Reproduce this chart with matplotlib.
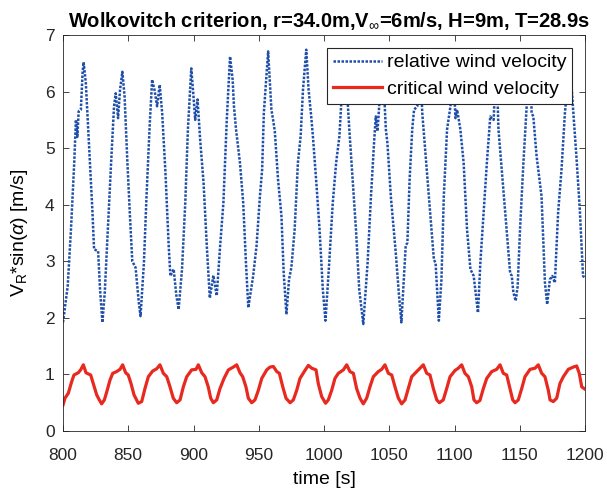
import matplotlib
matplotlib.use("Agg")
import matplotlib.pyplot as plt

plt.rcParams["font.family"] = ["Liberation Sans", "DejaVu Sans"]
plt.rcParams["mathtext.fontset"] = "custom"
plt.rcParams["mathtext.rm"] = "Liberation Sans"
plt.rcParams["mathtext.it"] = "Liberation Sans:italic"
plt.rcParams["mathtext.bf"] = "Liberation Sans:bold"

# relative wind velocity V_R*sin(alpha) [m/s]
blue_t = [800, 803.6, 806.1, 808.6, 809.9, 811, 812, 813.7, 815, 815.8, 817.5, 820, 822.6, 823.8, 826.9, 828.4, 830.2,
          832, 834, 836.6, 839.1, 840.4, 842.2, 843.7, 845.5, 847.2, 849.3, 851.3, 853.1, 855.6, 858.1, 859.4,
          862, 864, 866.5, 868.3, 870.1, 872.1, 874.1, 876, 878.5, 881, 882.3, 884.8, 886.9, 888.6,
          891.2, 893.7, 895.7, 898.3, 900, 901.3, 903.1, 905.1, 907.7, 910.2, 912.5, 915.2, 917.8,
          920.4, 922.9, 925.5, 928, 930, 931, 932.6, 935.6, 938.1, 940.2, 942,
          945.7, 948.3, 950.9, 952.6, 953.9, 957.2, 959.7, 961, 962.3, 964.8, 967.4, 969.1, 971.2,
          973.2, 975, 977.5, 980, 982.1, 983.9, 986.4, 988.2, 990.2, 991.5, 994.5, 996.6, 999.1, 1001.1,
          1003.7, 1006.7, 1009.3, 1011.8, 1013.1, 1015.5, 1018.2, 1019.4, 1022, 1024.5, 1027, 1030.1,
          1033.4, 1036, 1038.5, 1039.7, 1041, 1042.3, 1044.8, 1047.4, 1048.6, 1051.2, 1055, 1057.5, 1059.3,
          1062.6, 1063.9, 1065.6, 1067.6, 1069, 1071.5, 1073.5, 1075.3, 1077.9, 1080.4, 1084.2, 1085.5, 1088,
          1090, 1091.8, 1094.3, 1096.9, 1099, 1100.7, 1102, 1104.5, 1107, 1109.6, 1112.2, 1114.7, 1118,
          1119.8, 1122.3, 1124.8, 1127.4, 1130, 1132, 1133.7, 1136.2, 1140, 1142.6, 1143.9, 1145.1, 1146.9, 1148.4,
          1150.2, 1152.8, 1155.3, 1158, 1159.1, 1160.4, 1162.9, 1166.7, 1169.3, 1171,
          1173.1, 1174.9, 1176.9, 1179.4, 1182, 1184.6, 1187.4, 1188.5, 1190.9, 1193.4, 1196, 1198.5, 1200]
blue_v = [1.92, 2.56, 3.56, 4.74, 5.5, 5.2, 5.65, 5.68, 6.33, 6.52, 6.15, 5.03, 3.86, 3.21, 3.18, 2.5, 1.92,
          2.45, 3.39, 4.62, 5.74, 5.97, 5.53, 6.03, 6.35, 5.91, 4.77, 3.8, 3.0, 2.89, 2.27, 2.03,
          2.97, 4.15, 5.44, 6.21, 6.03, 5.74, 6.12, 5.62, 4.57, 3.27, 2.74, 2.86, 2.39, 2.15,
          2.86, 4.04, 5.33, 6.41, 5.91, 5.5, 5.86, 5.15, 4.39, 3.27, 2.35, 2.75, 2.39,
          3.27, 4.03, 5.5, 6.62, 6.21, 5.74, 5.33, 4.74, 4.03, 2.97, 2.18,
          2.74, 3.27, 4.15, 4.62, 5.62, 6.71, 5.68, 5.5, 5.3, 4.44, 3.8, 2.8, 2.06,
          2.68, 2.89, 3.56, 4.74, 5.21, 6.03, 6.74, 6.03, 5.56, 5.21, 4.27, 3.56, 2.5, 1.95,
          2.86, 4.03, 4.74, 5.21, 5.74, 6.6, 5.8, 5.33, 4.44, 3.56, 2.5, 1.89,
          2.97, 4.15, 5.15, 5.56, 5.3, 5.74, 6.6, 5.33, 5.09, 4.15, 3.15, 2.39, 1.92,
          3.27, 3.33, 4.44, 5.33, 5.68, 5.74, 6.6, 5.62, 4.86, 4.15, 3.03, 2.97, 1.95,
          2.68, 4.15, 5.33, 5.74, 6.5, 5.53, 5.68, 5.33, 4.74, 3.56, 2.86, 2.74, 2.09,
          2.97, 3.86, 4.74, 5.56, 5.5, 6.6, 5.33, 4.62, 3.56, 2.8, 2.74, 2.45, 2.3, 2.56,
          3.56, 4.74, 5.74, 6.6, 5.62, 5.56, 4.86, 4.15, 2.62, 2.24,
          2.68, 2.74, 2.62, 3.86, 4.62, 5.62, 6.33, 6.5, 5.68, 4.86, 3.92, 2.74, 2.7]

# critical wind velocity
red_t = [800, 801.5, 804.1, 806.6, 808.4, 811.7, 813.5, 815.6, 817.6, 821.2, 823.2, 825.8, 827.8, 829.6,
         831.7, 833.5, 836, 838.1, 841.1, 843.7, 845.7, 848, 850, 852.1, 854.4, 857.7,
         860.3, 862.8, 865.4, 868.7, 871.8, 874.3, 876.9, 879.5, 882, 884.5, 887.1,
         889.7, 892.2, 894.8, 898.6, 901.9, 903.7, 906.3, 908.8, 911.3, 913.2, 915.2,
         917.8, 920.3, 923.4, 926.7, 930.5, 933.1, 935.6, 937.7, 940.2, 942, 944.6,
         947.1, 949.7, 952.3, 956.1, 958.6, 961.2, 963.8, 965.8, 968.4, 970.9, 974,
         976.5, 979.1, 981.6, 985.4, 988, 990.6, 993.9, 995.6, 998.2, 1001.2,
         1003.3, 1005.9, 1008.4, 1011, 1014.8, 1017.4, 1019.9, 1022.5, 1025, 1027.6, 1030.1,
         1032.7, 1035.2, 1037.8, 1041.6, 1044.2, 1046.7, 1049.3, 1051.9, 1054.4, 1057, 1059.5,
         1062.1, 1064.6, 1067.2, 1071, 1073.6, 1076.1, 1078.7, 1081.2, 1083.8, 1086.4, 1088.4,
         1091.4, 1094, 1096.6, 1100.4, 1102.9, 1105.5, 1108, 1110.6, 1113.2, 1114.9, 1117,
         1119.5, 1122.1, 1124.7, 1128.5, 1132.3, 1134.9, 1137.4, 1140, 1142.5, 1144.6, 1146.4,
         1148.9, 1151.5, 1154, 1157.9, 1161.7, 1164.2, 1166.8, 1169.3, 1171.9, 1173.2, 1175.7,
         1178.3, 1180.8, 1183.4, 1187.2, 1191, 1193.6, 1195.6, 1197.5, 1200]
red_v = [0.46, 0.58, 0.67, 0.87, 0.99, 1.03, 1.08, 1.17, 1.03, 0.99, 0.84, 0.64, 0.55, 0.48,
         0.55, 0.69, 0.90, 1.02, 1.05, 1.09, 1.17, 1.03, 0.99, 0.84, 0.64, 0.49,
         0.52, 0.75, 0.96, 1.06, 1.10, 1.17, 1.02, 0.96, 0.78, 0.58, 0.50,
         0.55, 0.78, 0.96, 1.08, 1.09, 1.17, 1.03, 0.96, 0.78, 0.58, 0.50,
         0.55, 0.75, 0.93, 1.08, 1.13, 1.17, 1.03, 0.96, 0.78, 0.58, 0.50,
         0.55, 0.72, 0.93, 1.08, 1.13, 1.14, 1.05, 1.02, 0.78, 0.58, 0.50,
         0.55, 0.72, 0.93, 1.07, 1.16, 1.11, 1.08, 0.84, 0.61, 0.49,
         0.55, 0.72, 0.93, 1.02, 1.08, 1.17, 1.05, 1.02, 0.75, 0.58, 0.48,
         0.58, 0.78, 0.96, 1.05, 1.09, 1.17, 1.02, 0.99, 0.78, 0.58, 0.48,
         0.55, 0.75, 0.96, 1.05, 1.11, 1.17, 1.02, 0.99, 0.75, 0.55, 0.50,
         0.55, 0.75, 0.96, 1.07, 1.11, 1.17, 1.02, 0.96, 0.78, 0.55, 0.50,
         0.54, 0.75, 0.93, 1.05, 1.09, 1.17, 1.02, 0.99, 0.75, 0.55, 0.50,
         0.55, 0.75, 0.96, 1.09, 1.11, 1.17, 1.02, 0.96, 0.72, 0.55, 0.52,
         0.58, 0.84, 0.96, 1.09, 1.13, 1.15, 1.02, 0.78, 0.74]

x_ticks = list(range(800, 1201, 50))
y_ticks = list(range(0, 8))

fig = plt.figure(figsize=(6.07, 4.93), dpi=100)
ax = fig.add_axes([63 / 607, 1 - 431 / 493, 522 / 607, 396 / 493])

ax.plot(blue_t, blue_v, color="#1f4fa8", lw=1.8, linestyle=(0, (1, 0.6)),
        label="relative wind velocity")
ax.plot(red_t, red_v, color="#e8291f", lw=2.3, label="critical wind velocity")

ax.set_xlim(800, 1200)
ax.set_ylim(0, 7)
ax.set_xticks(x_ticks)
ax.set_yticks(y_ticks)
ax.tick_params(direction="in", top=True, right=True, length=4.5, width=0.6,
               labelsize=12.5, colors="#262626")
ax.tick_params(axis="x", pad=12)
ax.tick_params(axis="y", pad=6)
for s in ax.spines.values():
    s.set_linewidth(0.6)
    s.set_color("#262626")

ax.set_xlabel("time [s]", fontsize=14, labelpad=6)
ax.set_ylabel(r"V$_\mathrm{R}$*sin($\alpha$) [m/s]", fontsize=14, labelpad=11)
ax.set_title(r"Wolkovitch criterion, r=34.0m,V$_\infty$=6m/s, H=9m, T=28.9s",
             fontsize=14.5, fontweight="bold", pad=6, x=0.51)

leg = ax.legend(loc="upper right", bbox_to_anchor=(572 / 607, 1 - 48 / 493),
                bbox_transform=fig.transFigure, fontsize=14, handlelength=2.5,
                fancybox=False, framealpha=1, edgecolor="#262626",
                borderpad=0.3, labelspacing=0.45, handletextpad=0.25, borderaxespad=0)
leg.get_frame().set_linewidth(0.8)

fig.savefig("out.png", dpi=100)
